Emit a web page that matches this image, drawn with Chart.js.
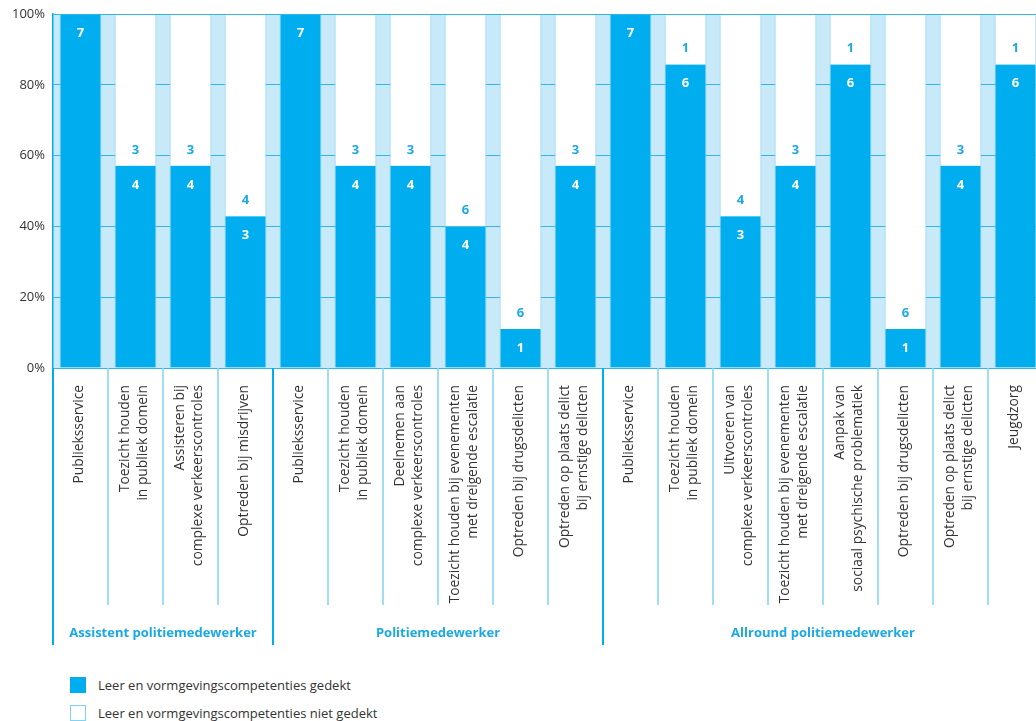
<!DOCTYPE html>
<html>
<head>
<meta charset="utf-8">
<script src="https://cdn.jsdelivr.net/npm/chart.js@4"></script>
<style>
  html, body { margin: 0; padding: 0; background: #fff; overflow: hidden; }
  #wrap { position: relative; width: 1036px; height: 721px; overflow: hidden; }
  #chart { position: absolute; left: 0; top: 0; }
  .legend { position: absolute; left: 70px; font: 13px 'Open Sans', sans-serif; color: #333; }
  .legend div { display: flex; align-items: center; height: 28px; }
  .legend span { display: inline-block; width: 16px; height: 16px; margin-right: 12px; box-sizing: border-box; }
</style>
</head>
<body>
<div id="wrap">
  <canvas id="chart" width="1043" height="660"></canvas>
  <div class="legend" style="top:671px">
    <div><span style="background:#00aeef"></span>Leer en vormgevingscompetenties gedekt</div>
    <div><span style="background:#fff;border:1.5px solid #7fd3f3"></span>Leer en vormgevingscompetenties niet gedekt</div>
  </div>
</div>
<script>
const categories = [
  'Publieksservice',
  ['Toezicht houden', 'in publiek domein'],
  ['Assisteren bij', 'complexe verkeerscontroles'],
  'Optreden bij misdrijven',
  'Publieksservice',
  ['Toezicht houden', 'in publiek domein'],
  ['Deelnemen aan', 'complexe verkeerscontroles'],
  ['Toezicht houden bij evenementen', 'met dreigende escalatie'],
  'Optreden bij drugsdelicten',
  ['Optreden op plaats delict', 'bij ernstige delicten'],
  'Publieksservice',
  ['Toezicht houden', 'in publiek domein'],
  ['Uitvoeren van', 'complexe verkeerscontroles'],
  ['Toezicht houden bij evenementen', 'met dreigende escalatie'],
  ['Aanpak van', 'sociaal psychische problematiek'],
  'Optreden bij drugsdelicten',
  ['Optreden op plaats delict', 'bij ernstige delicten'],
  'Jeugdzorg',
];
const groups = ['Assistent politiemedewerker', 'Politiemedewerker', 'Allround politiemedewerker'];
const groupSizes = [4, 6, 8];

// counts shown in the bars
const coveredCount = [7, 4, 4, 3, 7, 4, 4, 4, 1, 4, 7, 6, 3, 4, 6, 1, 4, 6];
const uncoveredCount = [0, 3, 3, 4, 0, 3, 3, 6, 6, 3, 0, 1, 4, 3, 1, 6, 3, 1];

// bar heights in percent
const coveredPct = [100, 57.1, 57.1, 42.9, 100, 57.1, 57.1, 40, 11, 57.1, 100, 85.7, 42.9, 57.1, 85.7, 11, 57.1, 85.7];
const uncoveredPct = coveredPct.map(v => 100 - v);

const yTicks = [0, 20, 40, 60, 80, 100];

const BLUE = '#00aeef';
const LABEL_BLUE = '#1aa9e5';
const EDGE = '#86d4f3';

const decor = {
  id: 'decor',
  beforeDraw(chart) {
    const { ctx, chartArea: a } = chart;
    ctx.save();
    ctx.fillStyle = '#c7e9f8';
    ctx.fillRect(a.left, a.top, a.right - a.left, a.bottom - a.top);
    ctx.restore();
  },
  afterDatasetsDraw(chart) {
    const { ctx, chartArea: a } = chart;
    const y = chart.scales.y;
    ctx.save();
    // top line at 100%
    ctx.strokeStyle = '#33b5e9';
    ctx.lineWidth = 1;
    ctx.beginPath();
    ctx.moveTo(a.left, y.getPixelForValue(100) + 0.5);
    ctx.lineTo(a.right, y.getPixelForValue(100) + 0.5);
    ctx.stroke();

    ctx.font = "bold 13px 'Open Sans', sans-serif";
    ctx.textAlign = 'center';
    ctx.textBaseline = 'middle';
    const bars = chart.getDatasetMeta(0).data;
    bars.forEach((bar, i) => {
      ctx.fillStyle = '#fff';
      ctx.fillText(String(coveredCount[i]), bar.x, bar.y + 19);
      if (uncoveredCount[i] > 0) {
        ctx.fillStyle = LABEL_BLUE;
        ctx.fillText(String(uncoveredCount[i]), bar.x, bar.y - 16);
      }
    });
    ctx.restore();
  },
  afterDraw(chart) {
    const { ctx, chartArea: a } = chart;
    const xs = chart.scales.x;
    const step = (a.right - a.left) / categories.length;
    ctx.save();

    // rotated category labels, lines centred on the category
    ctx.font = "13.8px 'Open Sans', sans-serif";
    ctx.fillStyle = '#333';
    ctx.textAlign = 'right';
    ctx.textBaseline = 'middle';
    categories.forEach((lab, i) => {
      const lines = Array.isArray(lab) ? lab : [lab];
      const cx = xs.getPixelForValue(i) - 1.5;
      lines.forEach((line, j) => {
        const x = cx + (j - (lines.length - 1) / 2) * 18;
        ctx.save();
        ctx.translate(x, a.bottom + 17);
        ctx.rotate(-Math.PI / 2);
        ctx.fillText(line, 0, 0);
        ctx.restore();
      });
    });

    // thin separators between categories
    ctx.strokeStyle = '#7fd3f3';
    ctx.lineWidth = 1.5;
    for (let k = 1; k < categories.length; k++) {
      const x = a.left + k * step;
      ctx.beginPath();
      ctx.moveTo(x, a.bottom);
      ctx.lineTo(x, a.bottom + 237);
      ctx.stroke();
    }
    // group separators and titles
    let start = 0;
    const bounds = [0];
    groupSizes.forEach(s => { start += s; bounds.push(start); });
    ctx.strokeStyle = BLUE;
    ctx.lineWidth = 2;
    bounds.forEach(k => {
      const x = a.left + k * step;
      ctx.beginPath();
      ctx.moveTo(x, a.bottom);
      ctx.lineTo(x, a.bottom + 277);
      ctx.stroke();
    });
    ctx.font = "bold 13px 'Open Sans', sans-serif";
    ctx.fillStyle = LABEL_BLUE;
    ctx.textAlign = 'center';
    groups.forEach((g, i) => {
      const x0 = a.left + bounds[i] * step;
      const x1 = a.left + bounds[i + 1] * step;
      ctx.fillText(g, (x0 + x1) / 2, a.bottom + 265);
    });
    ctx.restore();
  },
};

new Chart(document.getElementById('chart'), {
  type: 'bar',
  data: {
    labels: categories,
    datasets: [
      {
        label: 'Leer en vormgevingscompetenties gedekt',
        data: coveredPct,
        backgroundColor: BLUE,
        borderColor: EDGE,
        borderWidth: { left: 1, right: 1, top: 0, bottom: 0 },
        borderSkipped: false,
      },
      {
        label: 'Leer en vormgevingscompetenties niet gedekt',
        data: uncoveredPct,
        backgroundColor: '#fff',
        borderColor: EDGE,
        borderWidth: { left: 1, right: 1, top: 0, bottom: 0 },
        borderSkipped: false,
      },
    ],
  },
  options: {
    responsive: false,
    animation: false,
    devicePixelRatio: 1,
    layout: { padding: { top: 14, right: 0, left: 0, bottom: 0 } },
    datasets: { bar: { categoryPercentage: 1, barPercentage: 0.76 } },
    plugins: { legend: { display: false }, tooltip: { enabled: false } },
    scales: {
      x: {
        stacked: true,
        grid: { display: false, drawTicks: false },
        border: { display: false },
        ticks: { display: false },
        afterFit(scale) {
          scale.height = 292;
          scale.paddingLeft = 0;
          scale.paddingRight = 0;
        },
      },
      y: {
        stacked: true,
        min: 0,
        max: 100,
        afterBuildTicks(scale) {
          scale.ticks = yTicks.map(v => ({ value: v }));
        },
        grid: { color: '#33b5e9', lineWidth: 1, drawTicks: false },
        border: { color: BLUE, width: 1.5 },
        ticks: {
          padding: 8,
          color: '#333',
          font: { family: "'Open Sans', sans-serif", size: 13 },
          callback: v => v + '%',
        },
        afterFit(scale) {
          scale.width = 53;
          scale.paddingTop = 0;
          scale.paddingBottom = 0;
        },
      },
    },
  },
  plugins: [decor],
});
</script>
</body>
</html>
